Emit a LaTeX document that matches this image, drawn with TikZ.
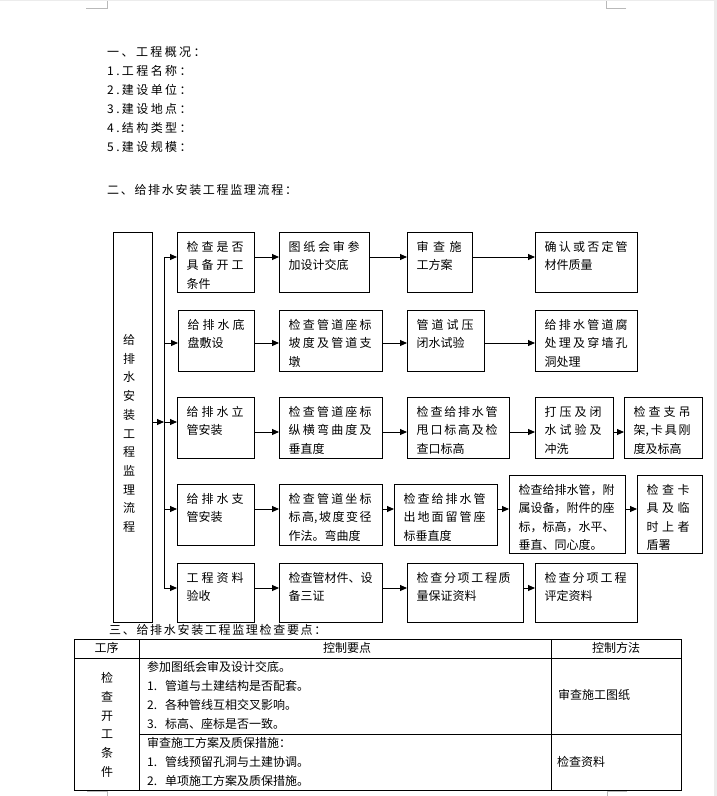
\documentclass[tikz,border=0pt]{standalone}
\usepackage{fontspec}
\setmainfont{Noto Sans CJK SC}
\usetikzlibrary{arrows.meta,calc}
\newXeTeXintercharclass\cjkcls
\newcount\cjkidx
\cjkidx="4E00
\loop
  \XeTeXcharclass\cjkidx=\cjkcls
  \advance\cjkidx by 1
\ifnum\cjkidx<"A000 \repeat
\cjkidx="3000
\loop
  \XeTeXcharclass\cjkidx=\cjkcls
  \advance\cjkidx by 1
\ifnum\cjkidx<"3040 \repeat
\cjkidx="FF00
\loop
  \XeTeXcharclass\cjkidx=\cjkcls
  \advance\cjkidx by 1
\ifnum\cjkidx<"FFF0 \repeat
\XeTeXinterchartoks\cjkcls\cjkcls={\hskip 0pt plus 1fil\relax}
\def\jw{50pt}
\newcommand\J[1]{\hbox to \jw{\XeTeXinterchartokenstate=1 #1}}
\newcommand\fb[7]{%
  \node[fbox, minimum width={(#4-#2)*1pt}, minimum height={(#5-#3)*1pt}] (#1) at (#2,#3) {};
  \def\jw{#6pt}%
  \node[ftext] (#1t) at ($(#1.north west)+(9.5,9)$) {#7};}
\begin{document}
\begin{tikzpicture}[x=1pt,y=-1pt,
  fbox/.style={draw=black, line width=0.9pt, inner sep=0pt, anchor=north west},
  ftext/.style={anchor=north west, inner sep=0pt, align=left, font=\fontsize{12}{18.5}\selectfont},
  arr/.style={draw=black, line width=0.9pt, -{Triangle[length=7pt,width=6pt]}},
  busline/.style={draw=black, line width=0.9pt},
  head/.style={anchor=west, inner sep=0pt, font=\fontsize{12}{14}\selectfont\addfontfeature{LetterSpace=20}},
  head2/.style={anchor=west, inner sep=0pt, font=\fontsize{12}{14}\selectfont\addfontfeature{LetterSpace=14}},
  ttext/.style={inner sep=0pt, font=\fontsize{12}{18.7}\selectfont},
  tline/.style={draw=black, line width=0.9pt},
  cropline/.style={draw=gray!55, line width=0.6pt}]
\useasboundingbox (0,0) rectangle (717,796);
\fill[white] (0,0) rectangle (717,796);
\fill[gray!15] (0,0) rectangle (717,1.4);
\fill[gray!15] (714,0) rectangle (717,796);
% crop marks
\draw[cropline] (86,8) -- (107,8) -- (107,1);
\draw[cropline] (626,8) -- (606,8) -- (606,1);
\draw[cropline] (87,791) -- (107,791) -- (107,796);
\draw[cropline] (627,791) -- (607,791) -- (607,796);

% headings
\node[head] (h0) at (107,52) {一、工程概况：};
\node[head] (h1) at (107,71) {1.工程名称：};
\node[head] (h2) at (107,90) {2.建设单位：};
\node[head] (h3) at (107,109) {3.建设地点：};
\node[head] (h4) at (107,128) {4.结构类型：};
\node[head] (h5) at (107,147) {5.建设规模：};
\node[head2] (h6) at (107,190) {二、给排水安装工程监理流程：};

% main box
\node[fbox, minimum width=39pt, minimum height=390pt] (main) at (113,232) {};
\node[ttext, align=center] (maint) at (129,433.5) {给\\排\\水\\安\\装\\工\\程\\监\\理\\流\\程};

% boxes
\fb{a1}{177}{232}{254}{292}{57}{\J{检查是否}\\\J{具备开工}\\条件}
\fb{a2}{279}{232}{369}{292}{71}{\J{图纸会审参}\\加设计交底}
\fb{a3}{407}{232}{472}{292}{45}{\J{审查施}\\工方案}
\fb{a4}{535}{232}{637}{292}{83}{\J{确认或否定管}\\材件质量}

\fb{b1}{178}{310}{254}{371}{57}{\J{给排水底}\\盘敷设}
\fb{b2}{279}{310}{382}{371}{83}{\J{检查管道座标}\\\J{坡度及管道支}\\墩}
\fb{b3}{407}{310}{484}{371}{57}{\J{管道试压}\\闭水试验}
\fb{b4}{535}{310}{637}{371}{83}{\J{给排水管道腐}\\\J{处理及穿墙孔}\\洞处理}

\fb{c1}{177}{397}{254}{458}{57}{\J{给排水立}\\管安装}
\fb{c2}{279}{397}{382}{458}{83}{\J{检查管道座标}\\\J{纵横弯曲度及}\\垂直度}
\fb{c3}{407}{397}{509}{458}{81}{\J{检查给排水管}\\\J{甩口标高及检}\\查口标高}
\fb{c4}{535}{397}{613}{458}{57}{\J{打压及闭}\\\J{水试验及}\\冲洗}
\fb{c5}{624}{397}{702}{458}{57}{\J{检查支吊}\\\J{架,\hfil 卡具刚}\\度及标高}

\fb{d1}{177}{484}{254}{545}{57}{\J{给排水支}\\管安装}
\fb{d2}{279}{484}{382}{545}{83}{\J{检查管道坐标}\\\J{标高,\hfil 坡度变径}\\作法。弯曲度}
\fb{d3}{394}{484}{497}{545}{82}{\J{检查给排水管}\\\J{出地面留管座}\\标垂直度}
\fb{d4}{509}{475}{625}{553}{97}{检查给排水管，附\\属设备，附件的座\\标，标高，水平、\\垂直、同心度。}
\fb{d5}{637}{475}{702}{553}{43}{\J{检查卡}\\\J{具及临}\\\J{时上者}\\盾署}

\fb{e1}{177}{563}{254}{622}{57}{\J{工程资料}\\验收}
\fb{e2}{279}{563}{382}{622}{84}{\J{检查管材件、设}\\备三证}
\fb{e3}{407}{563}{523}{622}{94}{\J{检查分项工程质}\\量保证资料}
\fb{e4}{535}{563}{637}{622}{82}{\J{检查分项工程}\\评定资料}

% bus
\coordinate (busA) at (164,257);
\coordinate (busB) at (164,343);
\coordinate (busC) at (164,422);
\coordinate (busD) at (164,509);
\coordinate (busE) at (164,588);
\coordinate (yc) at (0,432);
\draw[busline] (busA) -- (busE);
\draw[arr] (main.east |- busC) -- (busC);
\draw[arr] (busA) -- (a1.west |- busA);
\draw[arr] (busB) -- (b1.west |- busB);
\draw[arr] (busC) -- (c1.west |- busC);
\draw[arr] (busD) -- (d1.west |- busD);
\draw[arr] (busE) -- (e1.west |- busE);

% row arrows
\draw[arr] (a1.east |- busA) -- (a2.west |- busA);
\draw[arr] (a2.east |- busA) -- (a3.west |- busA);
\draw[arr] (a3.east |- busA) -- (a4.west |- busA);

\draw[arr] (b1.east |- busB) -- (b2.west |- busB);
\draw[arr] (b2.east |- busB) -- (b3.west |- busB);
\draw[arr] (b3.east |- busB) -- (b4.west |- busB);

\draw[arr] (c1.east |- yc) -- (c2.west |- yc);
\draw[arr] (c2.east |- yc) -- (c3.west |- yc);
\draw[arr] (c3.east |- yc) -- (c4.west |- yc);
\draw[arr] (c4.east |- yc) -- (c5.west |- yc);

\draw[arr] (d1.east |- busD) -- (d2.west |- busD);
\draw[arr] (d2.east |- busD) -- (d3.west |- busD);
\draw[arr] (d3.east |- busD) -- (d4.west |- busD);
\draw[arr] (d4.east |- busD) -- (d5.west |- busD);

\draw[arr] (e1.east |- busE) -- (e2.west |- busE);
\draw[arr] (e2.east |- busE) -- (e3.west |- busE);
\draw[arr] (e3.east |- busE) -- (e4.west |- busE);

% section 3
\node[head2] (h7) at (109,630) {三、给排水安装工程监理检查要点：};

% table
\draw[tline] (74,639) rectangle (681,790);
\draw[tline] (74,658) -- (681,658);
\draw[tline] (139,734) -- (681,734);
\draw[tline] (139,639) -- (139,790);
\draw[tline] (551,639) -- (551,790);

\node[ttext] (th1) at (106.5,648) {工序};
\node[ttext] (th2) at (347,648) {控制要点};
\node[ttext] (th3) at (616,648) {控制方法};
\node[ttext, align=center] (tv) at (107,725) {检\\查\\开\\工\\条\\件};
\node[ttext, align=left, anchor=north west] (tr1) at (147,661.6) {参加图纸会审及设计交底。\\1.\hspace{8pt}管道与土建结构是否配套。\\2.\hspace{8pt}各种管线互相交叉影响。\\3.\hspace{8pt}标高、座标是否一致。};
\node[ttext, align=left, anchor=north west] (tr2) at (147,737.6) {审查施工方案及质保措施：\\1.\hspace{8pt}管线预留孔洞与土建协调。\\2.\hspace{8pt}单项施工方案及质保措施。};
\node[ttext, anchor=west] (tm1) at (558,695) {审查施工图纸};
\node[ttext, anchor=west] (tm2) at (557,762) {检查资料};
\end{tikzpicture}
\end{document}
